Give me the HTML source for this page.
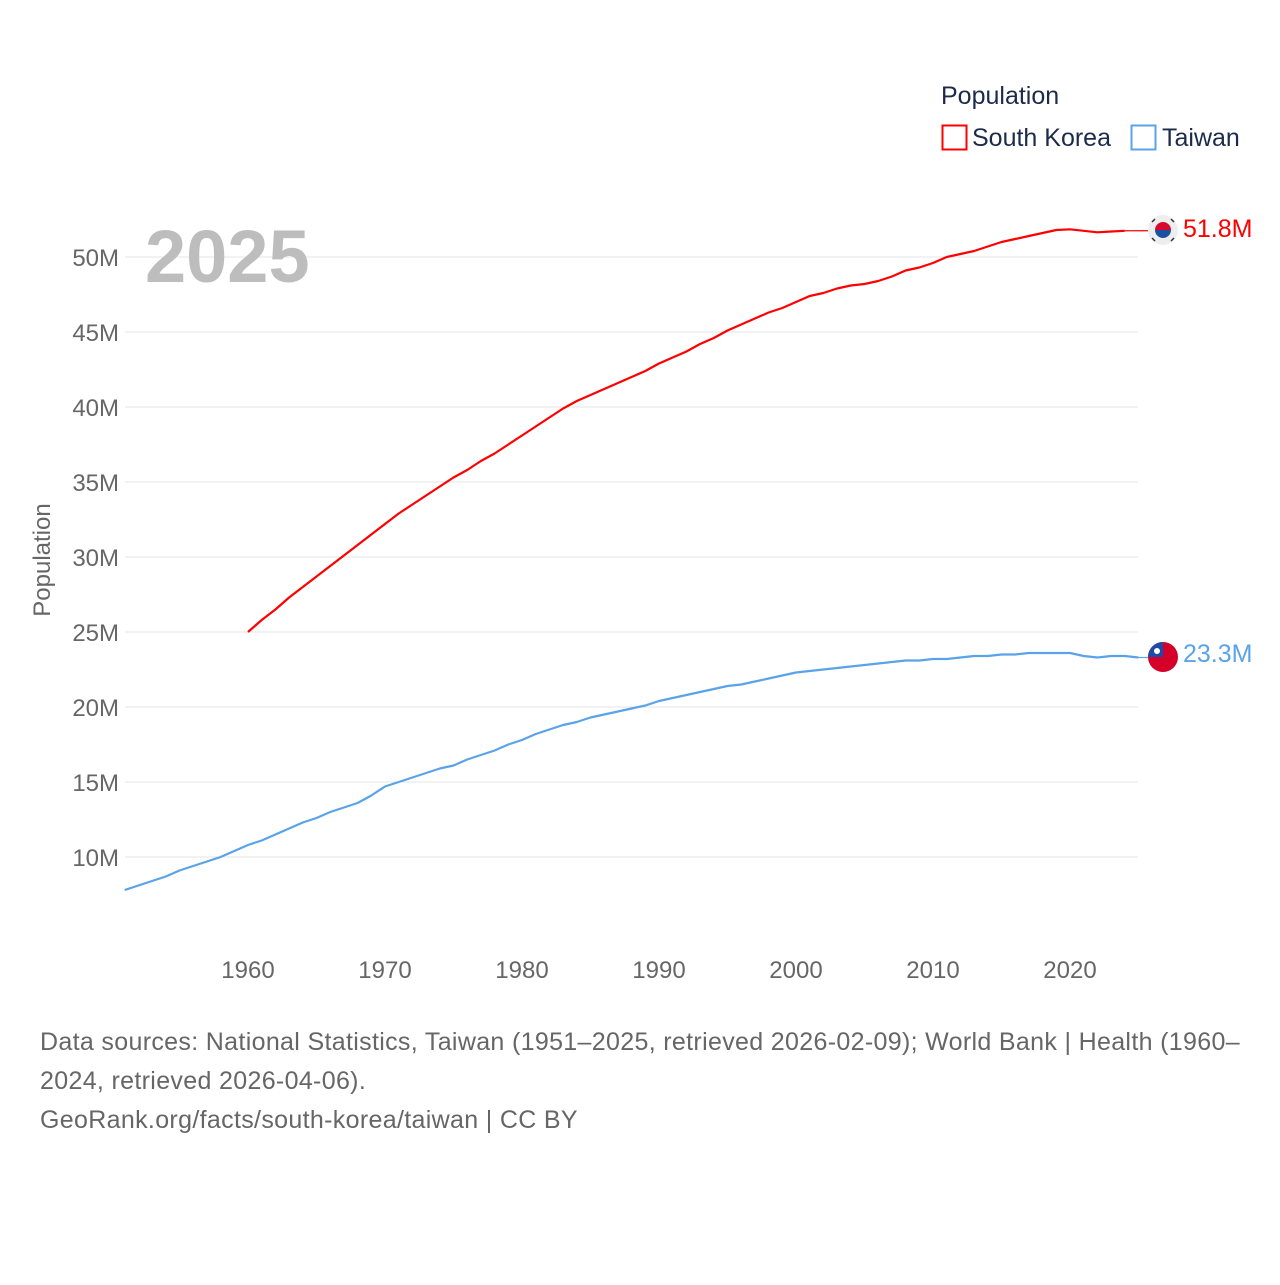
<!DOCTYPE html>
<html><head><meta charset="utf-8">
<style>
html,body{margin:0;padding:0;background:#fff;}
body{width:1280px;height:1280px;overflow:hidden;font-family:"Liberation Sans",sans-serif;}
svg text{font-family:"Liberation Sans",sans-serif;}
</style></head>
<body>
<svg id="chart" width="1280" height="1280" viewBox="0 0 1280 1280" xmlns="http://www.w3.org/2000/svg">
  <g id="grid"></g>
  <g id="yticks"></g>
  <g id="xticks"></g>
  <text x="145" y="282" font-size="74" font-weight="bold" fill="#bdbdbd">2025</text>
  <text transform="translate(50,560) rotate(-90)" text-anchor="middle" font-size="24" fill="#666">Population</text>
  <g id="series"></g>
  <g>
    <text x="941" y="104" font-size="25" fill="#1c2b4a">Population</text>
    <g>
      <rect x="942.5" y="125.5" width="24" height="24" fill="none" stroke="#ff0000" stroke-width="2"/>
      <text x="972" y="146" font-size="25" fill="#1c2b4a">South Korea</text>
    </g>
    <g>
      <rect x="1131.5" y="125.5" width="24" height="24" fill="none" stroke="#5ba3e8" stroke-width="2"/>
      <text x="1162" y="146" font-size="25" fill="#1c2b4a">Taiwan</text>
    </g>
  </g>
  <g>
    <circle cx="1163" cy="230" r="15" fill="#eee"/>
    <path d="M1155,230 a8,8 0 0 1 16,0 z" fill="#d60a2e"/>
    <path d="M1155,230 a8,8 0 0 0 16,0 z" fill="#1e50a0"/>
    <g stroke="#333" stroke-width="1.5"><line x1="1152" y1="222" x2="1155" y2="219"/><line x1="1171" y1="219" x2="1174" y2="222"/><line x1="1152" y1="238" x2="1155" y2="241"/><line x1="1171" y1="241" x2="1174" y2="238"/></g>
  </g>
  <g>
    <circle cx="1163" cy="657" r="15" fill="#d4002a"/>
    <path d="M1148,657 A15,15 0 0 1 1163,642 L1163,657 Z" fill="#1e4aa8"/>
    <circle cx="1157" cy="651" r="3" fill="#fff"/>
  </g>
  <text x="1183" y="237" font-size="25" fill="#ff0000">51.8M</text>
  <text x="1183" y="662" font-size="25" fill="#5ba3e8">23.3M</text>
  <g font-size="25" fill="#666" letter-spacing="0.33">
    <text x="40" y="1050">Data sources: National Statistics, Taiwan (1951–2025, retrieved 2026-02-09); World Bank | Health (1960–</text>
    <text x="40" y="1089">2024, retrieved 2026-04-06).</text>
    <text x="40" y="1128">GeoRank.org/facts/south-korea/taiwan | CC BY</text>
  </g>
</svg>
<script>
const yTicks = [10,15,20,25,30,35,40,45,50];
const xTicks = [1960,1970,1980,1990,2000,2010,2020];
const koreaStart = 1960;
const koreaValues = [25.0,25.8,26.5,27.3,28.0,28.7,29.4,30.1,30.8,31.5,32.2,32.9,33.5,34.1,34.7,35.3,35.8,36.4,36.9,37.5,38.1,38.7,39.3,39.9,40.4,40.8,41.2,41.6,42.0,42.4,42.9,43.3,43.7,44.2,44.6,45.1,45.5,45.9,46.3,46.6,47.0,47.4,47.6,47.9,48.1,48.2,48.4,48.7,49.1,49.3,49.6,50.0,50.2,50.4,50.7,51.0,51.2,51.4,51.6,51.8,51.85,51.75,51.65,51.7,51.75];
const taiwanStart = 1951;
const taiwanValues = [7.8,8.1,8.4,8.7,9.1,9.4,9.7,10.0,10.4,10.8,11.1,11.5,11.9,12.3,12.6,13.0,13.3,13.6,14.1,14.7,15.0,15.3,15.6,15.9,16.1,16.5,16.8,17.1,17.5,17.8,18.2,18.5,18.8,19.0,19.3,19.5,19.7,19.9,20.1,20.4,20.6,20.8,21.0,21.2,21.4,21.5,21.7,21.9,22.1,22.3,22.4,22.5,22.6,22.7,22.8,22.9,23.0,23.1,23.1,23.2,23.2,23.3,23.4,23.4,23.5,23.5,23.6,23.6,23.6,23.6,23.4,23.3,23.4,23.4,23.3];

const NS = "http://www.w3.org/2000/svg";
function xs(yr){ return 248 + (yr-1960)*13.7; }
function ys(v){ return 857 - (v-10)*15; }
function mk(tag, attrs, parent){ const e=document.createElementNS(NS,tag); for(const k in attrs) e.setAttribute(k,attrs[k]); parent.appendChild(e); return e; }

const grid=document.getElementById('grid'), yt=document.getElementById('yticks'), xt=document.getElementById('xticks'), ser=document.getElementById('series');
yTicks.forEach(v=>{
  const l=mk('line',{x1:125,x2:1138,y1:ys(v),y2:ys(v),stroke:'#e6e6e6','stroke-width':1},grid);
  
  
  const t=mk('text',{x:119,y:ys(v)+9,'text-anchor':'end','font-size':24,fill:'#666'},yt);
  t.textContent=v+'M';
  
  
});
xTicks.forEach(yr=>{
  const t=mk('text',{x:xs(yr),y:978,'text-anchor':'middle','font-size':24,fill:'#666'},xt);
  t.textContent=yr;
  
  
});
function line(start, vals, color, name, endX){
  let d=vals.map((v,i)=>(i?'L':'M')+xs(start+i).toFixed(1)+','+ys(v).toFixed(1)).join(' ');
  const p=mk('path',{d:d,fill:'none',stroke:color,'stroke-width':2.2,'stroke-linejoin':'round'},ser);
  
  
  const last=vals[vals.length-1];
  const c=mk('line',{x1:xs(start+vals.length-1),x2:endX,y1:ys(last),y2:ys(last),stroke:color,'stroke-width':1.2},ser);
  
  
}
line(koreaStart, koreaValues, '#ff0000', 'korea-line', 1148);
line(taiwanStart, taiwanValues, '#5ba3e8', 'taiwan-line', 1148);
</script>
</body></html>
